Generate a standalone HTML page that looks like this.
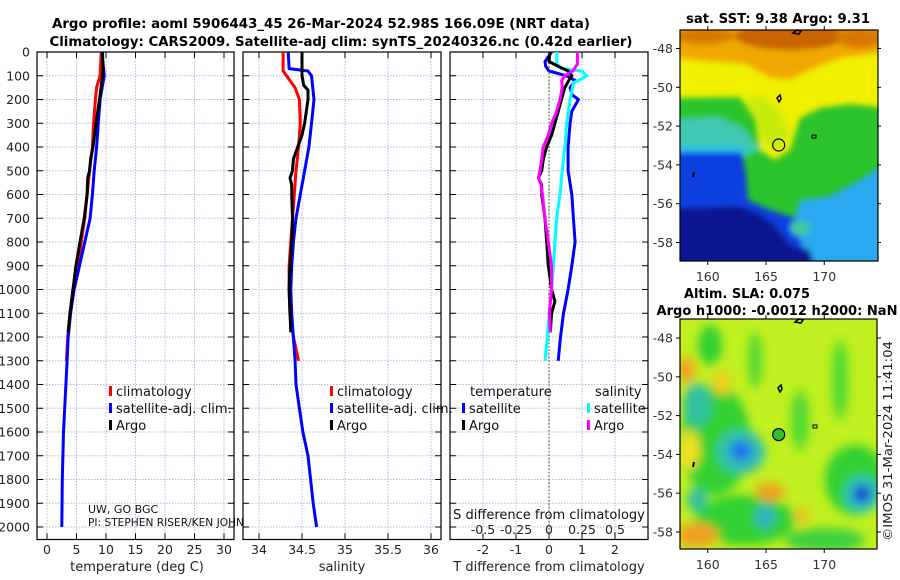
<!DOCTYPE html>
<html><head><meta charset="utf-8">
<style>
html,body{margin:0;padding:0;background:#fff;}
svg{display:block;font-family:"DejaVu Sans","Liberation Sans",sans-serif;}
</style></head>
<body>
<svg id="fig" width="900" height="580" viewBox="0 0 900 580" xmlns="http://www.w3.org/2000/svg">
<defs>
<clipPath id="clipMap1"><rect x="680" y="30" width="198" height="231"/></clipPath>
<clipPath id="clipMap2"><rect x="680" y="319" width="197" height="230"/></clipPath>
<filter id="blur3" x="-10%" y="-10%" width="120%" height="120%"><feGaussianBlur stdDeviation="3"/></filter>
<filter id="blur5" x="-20%" y="-20%" width="140%" height="140%"><feGaussianBlur stdDeviation="5"/></filter>
</defs>

<text x="321" y="28" text-anchor="middle" font-size="13.5" font-weight="bold" textLength="538" lengthAdjust="spacingAndGlyphs">Argo profile: aoml 5906443_45 26-Mar-2024 52.98S 166.09E (NRT data)</text>
<text x="341" y="46" text-anchor="middle" font-size="13.5" font-weight="bold" textLength="583" lengthAdjust="spacingAndGlyphs">Climatology: CARS2009. Satellite-adj clim: synTS_20240326.nc (0.42d earlier)</text>

<!-- SST map -->
<g>
<g clip-path="url(#clipMap1)">
<rect x="680" y="30" width="198" height="231" fill="#2cc42c"/>
<g filter="url(#blur3)">
<polygon fill="#f0f000" points="670,20 890,20 890,108 850,104 820,108 800,118 790,150 775,160 760,150 755,120 740,97 670,98"/>
<polygon fill="#c8ec10" points="745,100 760,95 780,110 790,135 780,150 765,145 755,120"/>
<polygon fill="#f0a800" points="670,20 890,20 890,52 840,58 810,70 790,80 770,78 745,64 715,62 670,58"/>
<ellipse fill="#c86400" cx="790" cy="36" rx="55" ry="14"/>
<ellipse fill="#d87800" cx="860" cy="38" rx="25" ry="10"/>
<ellipse fill="#d87800" cx="705" cy="36" rx="30" ry="8"/>
<polygon fill="#40c8b0" points="670,118 720,116 745,128 760,150 745,156 670,156"/>
<polygon fill="#2cc4e8" points="670,146 740,146 750,156 670,158"/>
<polygon fill="#2aa8f0" points="800,200 830,196 860,180 890,160 890,270 795,270 790,230"/>
<polygon fill="#1040e0" points="670,152 742,152 746,175 748,200 770,210 795,218 800,240 810,262 670,270"/>
<polygon fill="#0a1890" points="670,208 740,206 760,214 775,225 790,245 810,250 815,270 670,270"/>
<ellipse fill="#40c8a0" cx="800" cy="228" rx="10" ry="8"/>
</g>
</g>
<rect x="680" y="30" width="198" height="231" fill="none" stroke="#000" stroke-width="1.2"/>
<path d="M793,33 l4,-3 l4,1 l-2,3 z M777,98 l3,-3 l1,4 l-2,3 z" fill="none" stroke="#000" stroke-width="1.5"/>
<rect x="812" y="135" width="4" height="3" fill="none" stroke="#000" stroke-width="1"/>
<path d="M694,172 l-1,5" stroke="#000" stroke-width="2"/>
<circle cx="778.7" cy="145" r="6" fill="none" stroke="#000" stroke-width="1.2"/>
</g>
<text x="778" y="23" text-anchor="middle" font-size="13" font-weight="bold" textLength="184" lengthAdjust="spacingAndGlyphs">sat. SST: 9.38 Argo: 9.31</text>

<!-- SLA map -->
<g>
<g clip-path="url(#clipMap2)">
<rect x="680" y="319" width="197" height="230" fill="#c0f020"/>
<g filter="url(#blur5)">
<ellipse fill="#30d030" cx="715" cy="440" rx="35" ry="55"/>
<ellipse fill="#30d030" cx="745" cy="520" rx="50" ry="25"/>
<ellipse fill="#30d030" cx="855" cy="480" rx="30" ry="35"/>
<ellipse fill="#30d030" cx="710" cy="345" rx="12" ry="20"/>
<ellipse fill="#50d830" cx="755" cy="360" rx="7" ry="28"/>
<ellipse fill="#50d830" cx="840" cy="380" rx="8" ry="40"/>
<ellipse fill="#50d830" cx="800" cy="420" rx="9" ry="30"/>
<ellipse fill="#40d040" cx="825" cy="540" rx="40" ry="12"/>
<ellipse fill="#30c0a0" cx="697" cy="405" rx="14" ry="22"/>
<ellipse fill="#30c0b0" cx="741" cy="452" rx="24" ry="22"/>
<ellipse fill="#2070f0" cx="741" cy="451" rx="11" ry="10"/>
<ellipse fill="#30c0c0" cx="862" cy="494" rx="18" ry="18"/>
<ellipse fill="#1040d0" cx="862" cy="494" rx="9" ry="9"/>
<ellipse fill="#30b0c0" cx="765" cy="517" rx="10" ry="12"/>
<ellipse fill="#30c0a0" cx="697" cy="500" rx="10" ry="12"/>
<ellipse fill="#f0a020" cx="686" cy="370" rx="9" ry="13"/>
<ellipse fill="#f0d020" cx="722" cy="383" rx="10" ry="12"/>
<ellipse fill="#f0a020" cx="770" cy="492" rx="15" ry="9"/>
<ellipse fill="#f0a020" cx="697" cy="535" rx="22" ry="12"/>
<ellipse fill="#f0c020" cx="802" cy="516" rx="7" ry="9"/>
<ellipse fill="#f0e020" cx="690" cy="450" rx="10" ry="20"/>
</g>
</g>
<rect x="680" y="319" width="197" height="230" fill="none" stroke="#000" stroke-width="1.2"/>
<path d="M795,322 l4,-3 l4,1 l-2,3 z M778,388 l3,-3 l1,4 l-2,3 z" fill="none" stroke="#000" stroke-width="1.5"/>
<rect x="813" y="425" width="4" height="3" fill="none" stroke="#000" stroke-width="1"/>
<path d="M694,462 l-1,5" stroke="#000" stroke-width="2"/>
<circle cx="778.7" cy="434.6" r="6" fill="#30c030" stroke="#000" stroke-width="1.2"/>
</g>
<text x="747" y="298" text-anchor="middle" font-size="13" font-weight="bold" textLength="126" lengthAdjust="spacingAndGlyphs">Altim. SLA: 0.075</text>
<text x="777" y="315" text-anchor="middle" font-size="13" font-weight="bold" textLength="241" lengthAdjust="spacingAndGlyphs">Argo h1000: -0.0012 h2000: NaN</text>
<text transform="translate(892,541) rotate(-90)" font-size="12.5" fill="#222" textLength="200" lengthAdjust="spacingAndGlyphs">©IMOS 31-Mar-2024 11:41:04</text>

<g id="charts"></g>
</svg>

<script>
// ---- data arrays ----
const depthTicks = [0,100,200,300,400,500,600,700,800,900,1000,1100,1200,1300,1400,1500,1600,1700,1800,1900,2000];
const tempTicks = [0,5,10,15,20,25,30];
const salTicks = [34,34.5,35,35.5,36];
const salTickLabels = ['34','34.5','35','35.5','36'];
const tdiffTicks = [-2,-1,0,1,2];
const sdiffTicks = [-0.5,-0.25,0,0.25,0.5];
const sdiffTickLabels = ['-0.5','-0.25','0','0.25','0.5'];
const latTicks = [-48,-50,-52,-54,-56,-58];
const lonTicks = [160,165,170];

const climTDepth = [0,100,150,200,300,400,500,600,700,800,900,1000,1100,1200,1300];
const climT = [9.2,9.0,8.4,8.2,7.9,7.7,7.2,6.8,6.4,5.8,5.2,4.4,3.9,3.5,3.3];
const satTDepth = [0,100,200,300,400,500,600,700,800,900,1000,1100,1200,1300,1400,1500,1600,1800,2000];
const satT = [9.3,9.7,9.0,8.7,8.4,8.0,7.7,7.3,6.4,5.5,4.6,4.0,3.6,3.4,3.2,3.0,2.8,2.6,2.5];
const argoTDepth = [0,80,100,200,300,400,450,500,530,600,700,800,900,1000,1100,1180];
const argoT = [9.4,9.5,9.4,8.9,8.3,7.8,7.4,7.2,6.9,6.8,6.3,5.6,4.9,4.4,3.9,3.6];

const climSDepth = [0,80,100,150,200,300,400,500,600,700,800,900,1000,1100,1200,1300];
const climS = [34.28,34.28,34.32,34.42,34.47,34.48,34.46,34.43,34.41,34.39,34.37,34.35,34.35,34.36,34.40,34.46];
const satSDepth = [0,70,80,100,200,300,400,500,600,700,800,900,1000,1100,1200,1300,1400,1500,1600,1700,1800,1900,2000];
const satS = [34.34,34.35,34.57,34.61,34.64,34.61,34.58,34.53,34.48,34.43,34.40,34.38,34.37,34.38,34.40,34.42,34.43,34.47,34.51,34.57,34.60,34.63,34.67];
const argoSDepth = [0,100,140,160,200,250,300,350,400,450,500,530,560,600,700,800,900,1000,1100,1180];
const argoS = [34.50,34.50,34.52,34.57,34.57,34.55,34.53,34.50,34.45,34.40,34.39,34.36,34.38,34.38,34.39,34.38,34.36,34.35,34.36,34.37];

const satTDiffDepth = [0,40,60,80,100,120,150,180,200,250,300,400,500,600,700,800,900,1000,1100,1200,1300];
const satTDiff = [0.08,-0.12,-0.1,0.0,0.53,0.79,0.64,0.7,0.89,0.69,0.64,0.58,0.58,0.69,0.74,0.79,0.69,0.58,0.44,0.35,0.28];
const satSDiffDepth = [0,50,70,80,100,110,130,200,300,400,500,600,700,800,900,1000,1100,1200,1300];
const satSDiff = [0.058,0.058,0.096,0.25,0.285,0.26,0.184,0.16,0.134,0.12,0.10,0.083,0.058,0.045,0.033,0.02,0.002,-0.013,-0.03];
const argoTDiffDepth = [0,40,60,80,100,120,150,200,250,300,350,400,450,500,530,560,600,700,800,900,1000,1050,1100,1180];
const argoTDiff = [0.03,0.0,0.28,0.58,0.69,0.6,0.48,0.38,0.28,0.18,0.08,-0.07,-0.17,-0.22,-0.32,-0.22,-0.22,-0.12,-0.07,-0.02,0.08,0.18,0.08,0.04];
const argoSDiffDepth = [0,50,80,100,120,150,200,250,300,350,400,450,500,530,560,600,700,800,900,1000,1100,1180];
const argoSDiff = [0.215,0.215,0.18,0.12,0.096,0.1,0.083,0.058,0.02,-0.005,-0.043,-0.055,-0.068,-0.08,-0.06,-0.05,-0.03,-0.005,0.02,0.02,0.002,0.01];

// ---- axis functions ----
const NS = 'http://www.w3.org/2000/svg';
const root = document.getElementById('charts');
const Y0 = 52, YB = 539.5;
function yDepth(d){ return Y0 + d*0.2375; }
function xTemp(v){ return 47 + 5.9*v; }
function xSal(v){ return 259 + 86*(v-34); }
function xTD(v){ return 549 + 33*v; }
function xSD(v){ return 549 + 132*v; }
function xLon(v){ return 766 + 11.65*(v-165); }
function yLat1(v){ return 48.5 + 19.4*(-48 - v); }
function yLat2(v){ return 338 + 19.4*(-48 - v); }

function el(tag, attrs, parent){
  const e = document.createElementNS(NS, tag);
  for (const k in attrs) e.setAttribute(k, attrs[k]);
  (parent || root).appendChild(e);
  return e;
}
function txt(s, attrs, parent){
  const e = el('text', attrs, parent);
  e.textContent = s;
  return e;
}

function drawPanel(name, x0, x1, xTicks, xFn, showDepthLabels){
  const g = el('g', {});
  
  
  depthTicks.forEach(d => {
    const y = yDepth(d);
    const gl = el('line', {x1:x0, x2:x1, y1:y, y2:y, stroke:'#b8b8e0', 'stroke-width':1, 'stroke-dasharray':'1.5,1.5'}, g);
    
    
    el('line', {x1:x0, x2:x0+6, y1:y, y2:y, stroke:'#000', 'stroke-width':1}, g);
    el('line', {x1:x1-6, x2:x1, y1:y, y2:y, stroke:'#000', 'stroke-width':1}, g);
    if (showDepthLabels){
      const t = txt(String(d), {x:30, y:y+4.5, 'text-anchor':'end', 'font-size':12.5, fill:'#222'});
      
      
    }
  });
  xTicks.forEach(v => {
    const x = xFn(v);
    const gl = el('line', {x1:x, x2:x, y1:Y0, y2:YB, stroke:'#b8b8e0', 'stroke-width':1, 'stroke-dasharray':'1.5,1.5'}, g);
    
    
    el('line', {x1:x, x2:x, y1:YB-6, y2:YB, stroke:'#000', 'stroke-width':1}, g);
    el('line', {x1:x, x2:x, y1:Y0, y2:Y0+6, stroke:'#000', 'stroke-width':1}, g);
  });
  const fr = el('rect', {x:x0, y:Y0, width:x1-x0, height:YB-Y0, fill:'none', stroke:'#000', 'stroke-width':1.2}, g);
  
  
  return g;
}
function drawLine(name, depths, vals, xFn, color){
  const pts = depths.map((d,i) => xFn(vals[i]).toFixed(1) + ',' + yDepth(d).toFixed(1)).join(' ');
  const p = el('polyline', {points:pts, fill:'none', stroke:color, 'stroke-width':3, 'stroke-linejoin':'round'});
  
  
}
function xLabels(ticks, labels, xFn, y, prefix){
  ticks.forEach((v,i) => {
    const t = txt(labels[i], {x:xFn(v), y:y, 'text-anchor':'middle', 'font-size':12.5, fill:'#222'});
    
    
  });
}
function legendItem(name, x, y, color, label){
  const m = el('rect', {x:x, y:y-10, width:3, height:10, fill:color});
  
  
  const t = txt(label, {x:x+7, y:y, 'font-size':13, fill:'#111'});
  
  
}

// Panel 1: temperature
drawPanel('temperature-panel', 37, 234, tempTicks, xTemp, true);
drawLine('temperature-climatology-line', climTDepth, climT, xTemp, '#ff0000');
drawLine('temperature-satellite-line', satTDepth, satT, xTemp, '#0000ff');
drawLine('temperature-argo-line', argoTDepth, argoT, xTemp, '#000000');
xLabels(tempTicks, tempTicks.map(String), xTemp, 554, 'temperature');
const tt = txt('temperature (deg C)', {x:137, y:571, 'text-anchor':'middle', 'font-size':13, fill:'#222'});


legendItem('legend-climatology', 109, 396, '#ff0000', 'climatology');
legendItem('legend-satellite-adj', 109, 413, '#0000ff', 'satellite-adj. clim.');
legendItem('legend-argo', 109, 430, '#000000', 'Argo');
const uw = txt('UW, GO BGC', {x:88, y:513, 'font-size':11, fill:'#111'});


const pi = txt('PI: STEPHEN RISER/KEN JOHN', {x:88, y:526, 'font-size':11, fill:'#111', textLength:156, lengthAdjust:'spacingAndGlyphs'});



// Panel 2: salinity
drawPanel('salinity-panel', 243, 441, salTicks, xSal, false);
drawLine('salinity-climatology-line', climSDepth, climS, xSal, '#ff0000');
drawLine('salinity-satellite-line', satSDepth, satS, xSal, '#0000ff');
drawLine('salinity-argo-line', argoSDepth, argoS, xSal, '#000000');
xLabels(salTicks, salTickLabels, xSal, 554, 'salinity');
const st = txt('salinity', {x:342, y:571, 'text-anchor':'middle', 'font-size':13, fill:'#222'});


legendItem('legend-climatology-s', 330, 396, '#ff0000', 'climatology');
legendItem('legend-satellite-adj-s', 330, 413, '#0000ff', 'satellite-adj. clim.');
legendItem('legend-argo-s', 330, 430, '#000000', 'Argo');

// Panel 3: differences
drawPanel('difference-panel', 450, 648, tdiffTicks, xTD, false);
const zl = el('line', {x1:xTD(0), x2:xTD(0), y1:Y0, y2:YB, stroke:'#556b2f', 'stroke-width':1.2, 'stroke-dasharray':'1.5,2'});


drawLine('temperature-satellite-diff-line', satTDiffDepth, satTDiff, xTD, '#0000ff');
drawLine('salinity-satellite-diff-line', satSDiffDepth, satSDiff, xSD, '#00ffff');
drawLine('temperature-argo-diff-line', argoTDiffDepth, argoTDiff, xTD, '#000000');
drawLine('salinity-argo-diff-line', argoSDiffDepth, argoSDiff, xSD, '#ff00ff');
xLabels(tdiffTicks, tdiffTicks.map(String), xTD, 554, 'temperature-difference');
xLabels(sdiffTicks, sdiffTickLabels, xSD, 534, 'salinity-difference');
const tdt = txt('T difference from climatology', {x:549, y:571, 'text-anchor':'middle', 'font-size':13, fill:'#222'});


const sdt = txt('S difference from climatology', {x:549, y:519, 'text-anchor':'middle', 'font-size':13, fill:'#111'});


const lt = txt('temperature', {x:470, y:396, 'font-size':13, fill:'#111'});


const ls = txt('salinity', {x:595, y:396, 'font-size':13, fill:'#111'});


legendItem('legend-t-satellite', 462, 413, '#0000ff', 'satellite');
legendItem('legend-t-argo', 462, 430, '#000000', 'Argo');
legendItem('legend-s-satellite', 587, 413, '#00ffff', 'satellite');
legendItem('legend-s-argo', 587, 430, '#ff00ff', 'Argo');

// Map axes
function mapAxes(name, yLat, top, bottom, lonLabelY){
  const g = el('g', {});
  
  
  latTicks.forEach(v => {
    const y = yLat(v);
    el('line', {x1:676, x2:680, y1:y, y2:y, stroke:'#000'}, g);
    el('line', {x1:877, x2:881, y1:y, y2:y, stroke:'#000'}, g);
    const t = txt(String(v), {x:673, y:y+4.5, 'text-anchor':'end', 'font-size':12.5, fill:'#333'}, g);
    
    
  });
  lonTicks.forEach(v => {
    const x = xLon(v);
    el('line', {x1:x, x2:x, y1:bottom, y2:bottom+4, stroke:'#000'}, g);
    el('line', {x1:x, x2:x, y1:top-4, y2:top, stroke:'#000'}, g);
    const t = txt(String(v), {x:x, y:lonLabelY, 'text-anchor':'middle', 'font-size':12.5, fill:'#333'}, g);
    
    
  });
}
mapAxes('sst-map-axes', yLat1, 30, 261, 281);
mapAxes('sla-map-axes', yLat2, 319, 549, 569);
</script>
</body></html>
